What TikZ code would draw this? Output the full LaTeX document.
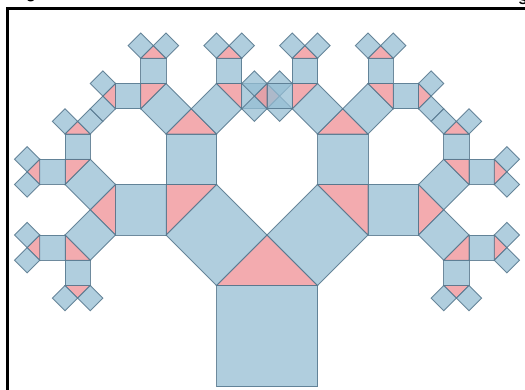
\documentclass[tikz,border=0pt]{standalone}
\usepackage{fontspec}
\setmainfont{Liberation Sans}
\definecolor{sqblue}{RGB}{150,190,212}
\definecolor{tripink}{RGB}{240,150,155}
\definecolor{edgeblue}{RGB}{85,118,140}
\tikzset{
  sq/.style={fill=sqblue,fill opacity=0.75,draw=edgeblue,draw opacity=0.85,line width=0.9pt,line join=miter},
  tri/.style={fill=tripink,fill opacity=0.8,draw=edgeblue,draw opacity=0.85,line width=0.9pt,line join=miter},
  frameline/.style={line width=3pt,black},
  cuttext/.style={font=\bfseries\fontsize{16}{16}\selectfont,inner sep=0pt,anchor=base}
}
\newcommand\pytree[5]{%
  \begingroup
  \pgfmathsetmacro\pdx{#4-#2}%
  \pgfmathsetmacro\pdy{#5-#3}%
  \pgfmathsetmacro\pax{#2+\pdy}%
  \pgfmathsetmacro\pay{#3-\pdx}%
  \pgfmathsetmacro\pbx{#4+\pdy}%
  \pgfmathsetmacro\pby{#5-\pdx}%
  \pgfmathsetmacro\pcx{\pax+0.5*\pdx+0.5*\pdy}%
  \pgfmathsetmacro\pcy{\pay+0.5*\pdy-0.5*\pdx}%
  \filldraw[sq] (#2,#3) -- (#4,#5) -- (\pbx,\pby) -- (\pax,\pay) -- cycle;
  \ifnum#1>0
    \filldraw[tri] (\pax,\pay) -- (\pcx,\pcy) -- (\pbx,\pby) -- cycle;
    \edef\pnext{\noexpand\pytree{\the\numexpr#1-1\relax}{\pax}{\pay}{\pcx}{\pcy}%
      \noexpand\pytree{\the\numexpr#1-1\relax}{\pcx}{\pcy}{\pbx}{\pby}}%
    \pnext
  \fi
  \endgroup}
\begin{document}
\begin{tikzpicture}[x=1pt,y=-1pt]
  \useasboundingbox (0,0) rectangle (525,390);
  \begin{scope}
    \clip (0,0) rectangle (525,390);
    \fill[white] (0,0) rectangle (525,390);
    \node[cuttext] (tg) at (31,-1.5) {g};
    \node[cuttext] (ts) at (523,5) {s};
    \draw[frameline] (7,392) -- (7,9) -- (527,9);
    \pytree{5}{216.5}{386.5}{317.5}{386.5}
  \end{scope}
\end{tikzpicture}
\end{document}
